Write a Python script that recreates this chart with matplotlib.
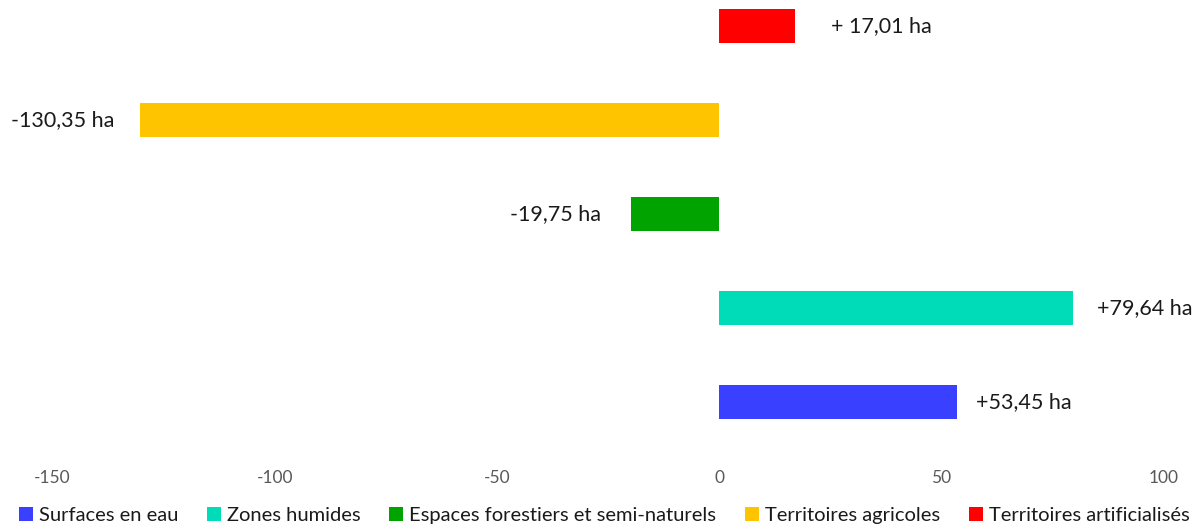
import matplotlib
matplotlib.use("Agg")
import matplotlib.pyplot as plt
from matplotlib.patches import Patch

categories = ["Surfaces en eau", "Zones humides", "Espaces forestiers et semi-naturels",
              "Territoires agricoles", "Territoires artificialisés"]
values = [53.45, 79.64, -19.75, -130.35, 17.01]
labels = ["+53,45 ha", "+79,64 ha", "-19,75 ha", "-130,35 ha", "+ 17,01 ha"]
colors = ["#3940FF", "#00DCB8", "#00A300", "#FFC400", "#FF0000"]
ticks = [-150, -100, -50, 0, 50, 100]
label_offsets = [14, 17, -22, -18, 26]  # points

plt.rcParams['font.family'] = ['Lato', 'DejaVu Sans']

fig = plt.figure(figsize=(11.95, 5.24), dpi=100)
ax = fig.add_axes([0, (524 - 455) / 524, 1, 455 / 524])
ypos = list(range(len(values)))
ax.barh(ypos, values, height=0.362, color=colors)
ax.set_xlim(-161.8, 107.1)
ax.set_ylim(-0.564, 4.277)
ax.set_xticks(ticks)
ax.set_xticklabels([str(t) for t in ticks], fontsize=12.5, color="#595959")
ax.tick_params(axis='x', length=0, pad=11)
ax.set_yticks([])
for s in ax.spines.values():
    s.set_visible(False)

for y, v, lab, off in zip(ypos, values, labels, label_offsets):
    ax.annotate(lab, xy=(v, y), xytext=(off, 0), textcoords='offset points',
                ha='left' if off > 0 else 'right', va='center', fontsize=15.5, color="#1a1a1a")

handles = [Patch(facecolor=c, edgecolor='none') for c in colors]
fig.legend(handles, categories, loc='lower center', ncol=5, frameon=False,
           bbox_to_anchor=(0.5055, -0.035), fontsize=14.5, handlelength=0.7, handleheight=0.7,
           handletextpad=0.3, columnspacing=1.42, labelcolor="#1a1a1a")

fig.savefig("out.png", dpi=100)
